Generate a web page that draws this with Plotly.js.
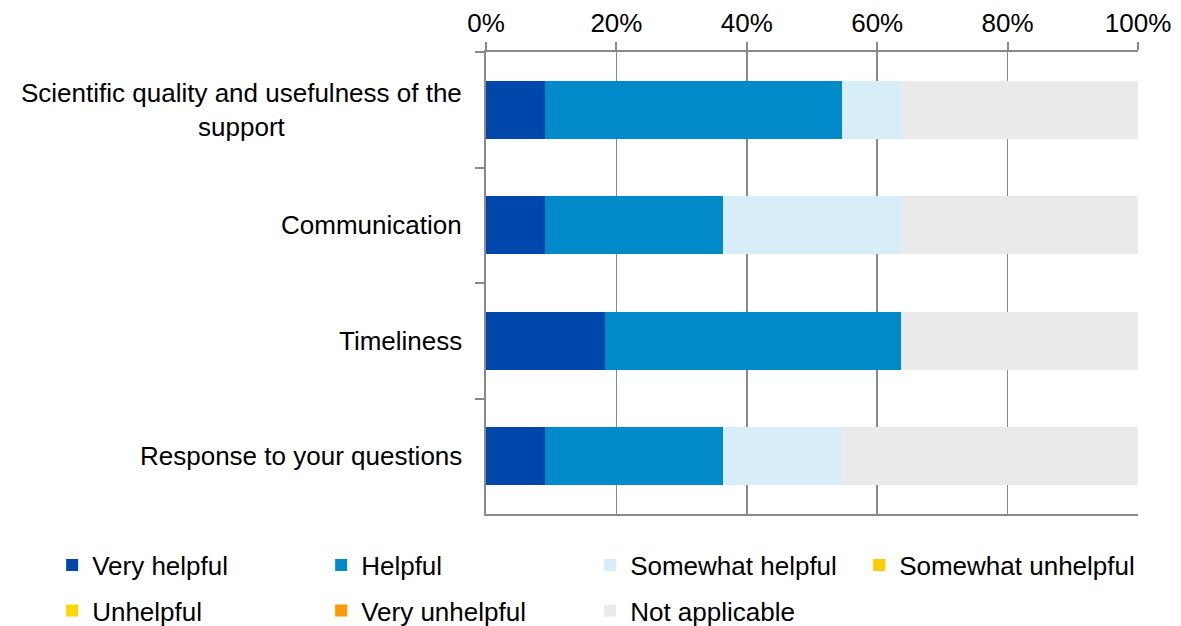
<!DOCTYPE html>
<html>
<head>
<meta charset="utf-8">
<script src="https://cdn.plot.ly/plotly-3.0.1.min.js"></script>
<style>html,body{margin:0;padding:0;background:#fff;} #chart{width:1181px;height:626px;}</style>
</head>
<body>
<div id="chart"></div>
<script>
// ---- data ----
const categories = ['Scientific quality and usefulness of the support', 'Communication', 'Timeliness', 'Response to your questions'];
const categoryLabels = ['Scientific quality and usefulness of the<br>support', 'Communication', 'Timeliness', 'Response to your questions'];
const seriesNames = ['Very helpful', 'Helpful', 'Somewhat helpful', 'Somewhat unhelpful', 'Unhelpful', 'Very unhelpful', 'Not applicable'];
const veryHelpful       = [9.09, 9.09, 18.18, 9.09];
const helpful           = [45.45, 27.27, 45.45, 27.27];
const somewhatHelpful   = [9.09, 27.27, 0, 18.18];
const somewhatUnhelpful = [0, 0, 0, 0];
const unhelpful         = [0, 0, 0, 0];
const veryUnhelpful     = [0, 0, 0, 0];
const notApplicable     = [36.36, 36.36, 36.36, 45.45];
const xTicks = [0, 20, 40, 60, 80, 100];

// ---- styles ----
const seriesValues = [veryHelpful, helpful, somewhatHelpful, somewhatUnhelpful, unhelpful, veryUnhelpful, notApplicable];
const colors = ['#0047AB', '#008AC9', '#D7EEF9', '#FFCC00', '#FFD700', '#FF9900', '#EAEAEA'];
const legendGroupOf = ['legend', 'legend', 'legend', 'legend3', 'legend2', 'legend2', 'legend2'];
const FONT = 'Liberation Sans, Arial, sans-serif';
const FS = 26;
const GRAY = '#898989';

const traces = seriesNames.map((name, i) => ({
  type: 'bar',
  orientation: 'h',
  name: name,
  x: seriesValues[i],
  y: categories,
  marker: {color: colors[i], line: {width: 0}},
  legend: legendGroupOf[i],
  hoverinfo: 'x+name'
}));

const legendCommon = {
  orientation: 'h',
  xref: 'paper', x: -0.6654, xanchor: 'left',
  yanchor: 'top',
  entrywidth: 224, entrywidthmode: 'pixels',
  font: {family: FONT, size: FS, color: '#000'},
  bgcolor: 'rgba(0,0,0,0)', borderwidth: 0,
  traceorder: 'normal'
};

const layout = {
  width: 1181, height: 626,
  margin: {l: 486, r: 43, t: 52, b: 112, autoexpand: false},
  paper_bgcolor: '#fff', plot_bgcolor: '#fff',
  font: {family: FONT, size: FS, color: '#000'},
  barmode: 'stack',
  bargap: 0.5,
  showlegend: true,
  legend: Object.assign({}, legendCommon, {y: -0.06}),
  legend3: {
    orientation: 'h', xref: 'paper', x: -0.6654 + 807 / 652, xanchor: 'left',
    yanchor: 'top', y: -0.06,
    font: {family: FONT, size: FS, color: '#000'},
    bgcolor: 'rgba(0,0,0,0)', borderwidth: 0
  },
  legend2: Object.assign({}, legendCommon, {y: -0.158}),
  xaxis: {
    side: 'top',
    range: [0, 100],
    tickvals: xTicks,
    ticktext: xTicks.map(v => v + '%'),
    ticks: 'outside', ticklen: 8, tickwidth: 2, tickcolor: GRAY,
    showline: true, linecolor: GRAY, linewidth: 2, mirror: true,
    showgrid: true, gridcolor: GRAY, gridwidth: 1.5,
    zeroline: false,
    tickfont: {family: FONT, size: FS, color: '#000'},
    fixedrange: true
  },
  yaxis: {
    type: 'category',
    categoryorder: 'array', categoryarray: categories,
    autorange: 'reversed',
    showticklabels: false,
    ticks: 'outside', tickson: 'boundaries', ticklen: 9, tickwidth: 2, tickcolor: GRAY,
    showline: true, linecolor: GRAY, linewidth: 2,
    showgrid: false, zeroline: false,
    fixedrange: true
  },
  annotations: categories.map((c, i) => ({
    xref: 'paper', yref: 'y',
    x: 0, y: c,
    xanchor: 'right', yanchor: 'middle',
    xshift: -22,
    align: 'center',
    text: categoryLabels[i],
    showarrow: false,
    font: {family: FONT, size: FS, color: '#000'}
  }))
};

Plotly.newPlot('chart', traces, layout, {displayModeBar: false, staticPlot: true});
</script>
</body>
</html>
